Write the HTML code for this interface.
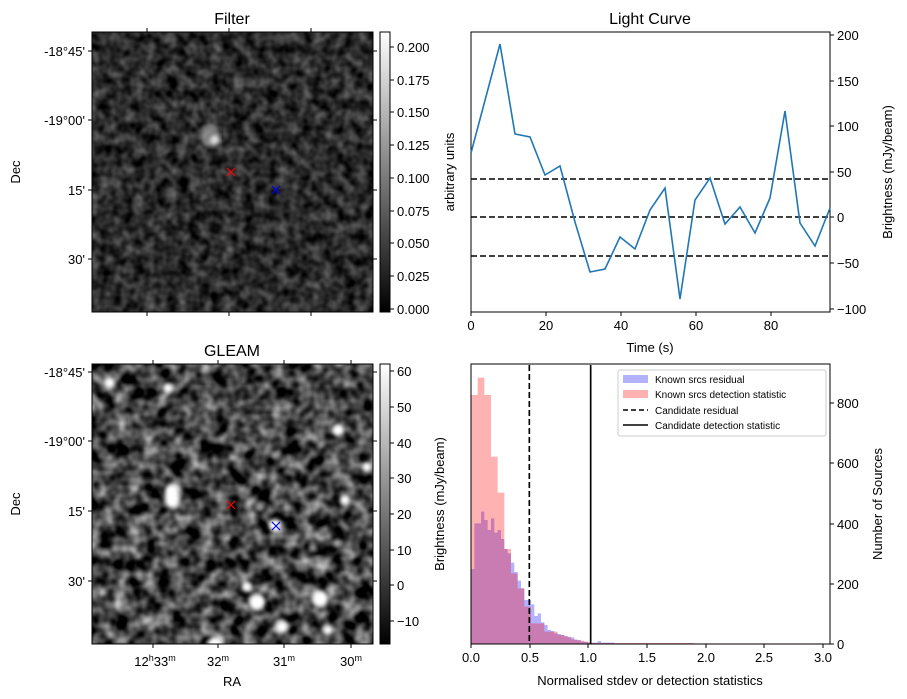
<!DOCTYPE html>
<html><head><meta charset="utf-8"><style>
body{margin:0;background:#fff;}
svg{display:block;font-family:"Liberation Sans","DejaVu Sans",sans-serif;}
</style></head><body>
<svg width="907" height="699" viewBox="0 0 907 699" xmlns="http://www.w3.org/2000/svg">
<defs>
<filter id="nf" x="0" y="0" width="100%" height="100%" color-interpolation-filters="sRGB">
<feTurbulence type="fractalNoise" baseFrequency="0.09" numOctaves="2" seed="3"/>
<feColorMatrix type="matrix" values="0.6 0 0 0 -0.13  0.6 0 0 0 -0.13  0.6 0 0 0 -0.13  0 0 0 0 1"/>
</filter>
<filter id="ng" x="0" y="0" width="100%" height="100%" color-interpolation-filters="sRGB">
<feTurbulence type="fractalNoise" baseFrequency="0.07" numOctaves="2" seed="7"/>
<feColorMatrix type="matrix" values="1.3 0 0 0 -0.38  1.3 0 0 0 -0.38  1.3 0 0 0 -0.38  0 0 0 0 1"/>
</filter>
<filter id="bl"><feGaussianBlur stdDeviation="2"/></filter>
<linearGradient id="gr" x1="0" y1="1" x2="0" y2="0"><stop offset="0" stop-color="#000"/><stop offset="1" stop-color="#fff"/></linearGradient>
</defs>

<!-- Filter panel -->
<rect x="92" y="32" width="281" height="280" fill="#2a2a2a"/>
<rect x="92" y="32" width="281" height="280" filter="url(#nf)"/>
<g filter="url(#bl)" fill="#bbb"><ellipse cx="210" cy="135" rx="10" ry="12" opacity="0.6"/><circle cx="215" cy="140" r="5" fill="#ddd"/></g>
<rect x="92" y="32" width="281" height="280" fill="none" stroke="#000"/>
<g stroke="#f00" stroke-width="1.2"><path d="M227 168l8 8M235 168l-8 8"/></g>
<g stroke="#00f" stroke-width="1.2"><path d="M272 186l8 8M280 186l-8 8"/></g>
<g stroke="#000"><path d="M147 32v-4M229 32v-4M311 32v-4M147 312v4M229 312v4M311 312v4M92 51h-4M92 120h-4M92 190h-4M92 259h-4M373 51h4M373 120h4M373 190h4M373 259h4"/></g>
<g font-size="13" text-anchor="end"><text x="85" y="56">-18°45'</text><text x="85" y="125">-19°00'</text><text x="85" y="195">15'</text><text x="85" y="264">30'</text></g>
<text x="20" y="172" font-size="13" text-anchor="middle" transform="rotate(-90 20 172)">Dec</text>
<text x="232" y="24" font-size="16" text-anchor="middle">Filter</text>
<rect x="380" y="32" width="10" height="280" fill="url(#gr)" stroke="#000"/>
<g stroke="#000"><path d="M390 309h4M390 276h4M390 243h4M390 211h4M390 178h4M390 145h4M390 112h4M390 80h4M390 47h4"/></g>
<g font-size="13"><text x="397" y="314">0.000</text><text x="397" y="281">0.025</text><text x="397" y="248">0.050</text><text x="397" y="216">0.075</text><text x="397" y="183">0.100</text><text x="397" y="150">0.125</text><text x="397" y="117">0.150</text><text x="397" y="85">0.175</text><text x="397" y="52">0.200</text></g>
<text x="454" y="172" font-size="13" text-anchor="middle" transform="rotate(-90 454 172)">arbitrary units</text>

<!-- GLEAM panel -->
<rect x="92" y="364" width="281" height="280" fill="#333"/>
<rect x="92" y="364" width="281" height="280" filter="url(#ng)"/>
<g fill="#fff" filter="url(#bl)">
<circle cx="110" cy="383" r="5"/><circle cx="168" cy="388" r="5"/><circle cx="338" cy="430" r="6"/><circle cx="367" cy="467" r="5"/>
<rect x="165" y="484" width="14" height="24" rx="7"/><circle cx="345" cy="500" r="5"/><circle cx="275" cy="525" r="6"/>
<circle cx="247" cy="587" r="5"/><circle cx="257" cy="602" r="8"/><circle cx="320" cy="599" r="8"/><circle cx="282" cy="627" r="6"/><circle cx="328" cy="630" r="5"/><circle cx="215" cy="645" r="8"/>
<circle cx="175" cy="530" r="4" fill="#999"/><circle cx="260" cy="507" r="4" fill="#999"/><circle cx="313" cy="548" r="4" fill="#999"/><circle cx="337" cy="543" r="4" fill="#aaa"/>
</g>
<rect x="92" y="364" width="281" height="280" fill="none" stroke="#000"/>
<g stroke="#f00" stroke-width="1.2"><path d="M227 501l8 8M235 501l-8 8"/></g>
<g stroke="#00f" stroke-width="1.2"><path d="M272 522l8 8M280 522l-8 8"/></g>
<g stroke="#000"><path d="M153 364v-4M218 364v-4M284 364v-4M351 364v-4M153 644v4M218 644v4M284 644v4M351 644v4M92 372h-4M92 441h-4M92 511h-4M92 581h-4M373 372h4M373 441h4M373 511h4M373 581h4"/></g>
<g font-size="13" text-anchor="end"><text x="85" y="377">-18°45'</text><text x="85" y="446">-19°00'</text><text x="85" y="516">15'</text><text x="85" y="586">30'</text></g>
<text x="20" y="504" font-size="13" text-anchor="middle" transform="rotate(-90 20 504)">Dec</text>
<text x="232" y="356" font-size="16" text-anchor="middle">GLEAM</text>
<g font-size="13" text-anchor="middle"><text x="155" y="666">12<tspan font-size="9" dy="-5">h</tspan><tspan dy="5">33</tspan><tspan font-size="9" dy="-5">m</tspan></text><text x="218" y="666">32<tspan font-size="9" dy="-5">m</tspan></text><text x="284" y="666">31<tspan font-size="9" dy="-5">m</tspan></text><text x="351" y="666">30<tspan font-size="9" dy="-5">m</tspan></text></g>
<text x="232" y="686" font-size="13" text-anchor="middle">RA</text>
<rect x="380" y="364" width="10" height="280" fill="url(#gr)" stroke="#000"/>
<g stroke="#000"><path d="M390 621h4M390 585h4M390 550h4M390 514h4M390 478h4M390 443h4M390 407h4M390 371h4"/></g>
<g font-size="13"><text x="397" y="626">−10</text><text x="397" y="590">0</text><text x="397" y="555">10</text><text x="397" y="519">20</text><text x="397" y="483">30</text><text x="397" y="448">40</text><text x="397" y="412">50</text><text x="397" y="376">60</text></g>

<!-- Light curve -->
<rect x="471" y="32" width="359" height="280" fill="none" stroke="#000"/>
<g stroke="#000" stroke-width="1.6" stroke-dasharray="6,3"><path d="M471 179h359M471 217h359M471 256h359"/></g>
<polyline fill="none" stroke="#1f77b4" stroke-width="1.6" points="471,153 500,44 515,134 530,137 545,175 560,166 575,222 590,272 605,269 620,237 635,249 650,210 665,188 680,299 695,200 710,178 725,224 740,207 755,233 770,198 785,111 800,223 815,246 830,208"/>
<g stroke="#000"><path d="M471 312v4M546 312v4M621 312v4M696 312v4M771 312v4M830 35h4M830 81h4M830 126h4M830 172h4M830 217h4M830 263h4M830 309h4"/></g>
<g font-size="13" text-anchor="middle"><text x="471" y="330">0</text><text x="546" y="330">20</text><text x="621" y="330">40</text><text x="696" y="330">60</text><text x="771" y="330">80</text></g>
<g font-size="13"><text x="837" y="40">200</text><text x="837" y="86">150</text><text x="837" y="131">100</text><text x="837" y="177">50</text><text x="837" y="222">0</text><text x="837" y="268">−50</text><text x="837" y="314">−100</text></g>
<text x="650" y="352" font-size="13" text-anchor="middle">Time (s)</text>
<text x="650" y="24" font-size="16" text-anchor="middle">Light Curve</text>
<text x="892" y="172" font-size="13" text-anchor="middle" transform="rotate(-90 892 172)">Brightness (mJy/beam)</text>

<!-- Histogram -->
<g transform="translate(460,360) scale(0.33333)">
<path fill="rgba(0,0,255,0.3)" d="M33 853V627H43V490H63V455H73V480H83V510H93V475H103V518H113V510H123V537H133V567H143V580H153V608H163V636H173V662H183V685H193V720H213V733H223V768H233V760H243V787H253V795H263V810H273V813H283V820H293V822H303V825H313V828H323V832H343V840H363V845H383V848H413V843H423V848H463V850H700V851H1090V853Z"/>
<path fill="rgba(255,0,0,0.3)" d="M33 853V105H53V53H73V105H93V290H113V398H133V567H153V640H173V685H193V740H213V790H253V815H293V825H313V830H333V838H353V842H373V846H393V849H700V850H1090V853Z"/>
<path d="M208 15V853" stroke="#000" stroke-width="5" stroke-dasharray="18,9"/>
<path d="M392 15V853" stroke="#000" stroke-width="5"/>
</g>
<rect x="471" y="364" width="359" height="280" fill="none" stroke="#000"/>
<g stroke="#000"><path d="M471 644v4M530 644v4M588 644v4M647 644v4M706 644v4M764 644v4M823 644v4M830 644h4M830 584h4M830 524h4M830 463h4M830 403h4"/></g>
<g font-size="13" text-anchor="middle"><text x="471" y="662">0.0</text><text x="530" y="662">0.5</text><text x="588" y="662">1.0</text><text x="647" y="662">1.5</text><text x="706" y="662">2.0</text><text x="764" y="662">2.5</text><text x="823" y="662">3.0</text></g>
<g font-size="13"><text x="837" y="649">0</text><text x="837" y="589">200</text><text x="837" y="529">400</text><text x="837" y="468">600</text><text x="837" y="408">800</text></g>
<text x="650" y="685" font-size="13" text-anchor="middle">Normalised stdev or detection statistics</text>
<text x="444" y="504" font-size="13" text-anchor="middle" transform="rotate(-90 444 504)">Brightness (mJy/beam)</text>
<text x="882" y="504" font-size="13" text-anchor="middle" transform="rotate(-90 882 504)">Number of Sources</text>
<rect x="618" y="370" width="208" height="66" rx="2" fill="#fff" fill-opacity="0.8" stroke="#ccc"/>
<rect x="623" y="375" width="25" height="8" fill="rgba(0,0,255,0.3)"/>
<rect x="623" y="390" width="25" height="8" fill="rgba(255,0,0,0.3)"/>
<path d="M623 410h25" stroke="#000" stroke-width="1.6" stroke-dasharray="5,3"/>
<path d="M623 425h25" stroke="#000" stroke-width="1.6"/>
<g font-size="10"><text x="655" y="383">Known srcs residual</text><text x="655" y="398">Known srcs detection statistic</text><text x="655" y="414">Candidate residual</text><text x="655" y="429">Candidate detection statistic</text></g>
</svg>
</body></html>
